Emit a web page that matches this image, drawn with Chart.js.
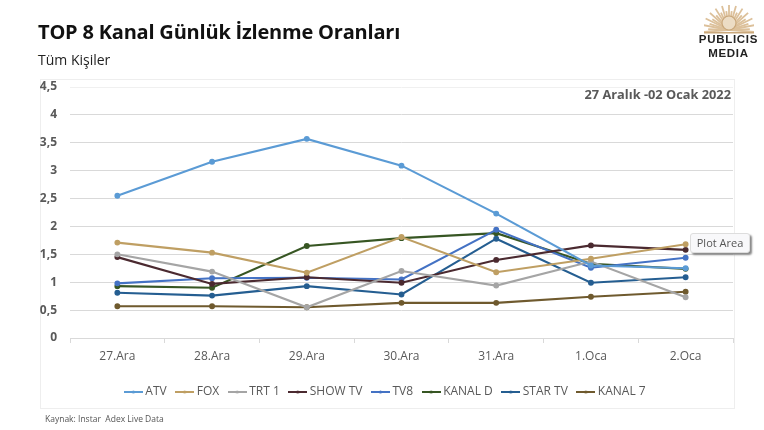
<!DOCTYPE html>
<html lang="tr">

<head>
  <meta charset="UTF-8">
  <title>TOP 8 Kanal</title>
  <style>
    body { margin: 0; background: #fff; font-family: "Open Sans", sans-serif; }
    #page { position: relative; width: 764px; height: 430px; overflow: hidden; }
    #page div { position: absolute; white-space: nowrap; }
    canvas#grafico { position: absolute; left: 0; top: 0; }
    .titulo { left: 38px; top: 18px; font-size: 20px; font-weight: 700; color: #111; letter-spacing: -0.2px; }
    .sub { left: 38px; top: 50px; font-size: 14px; color: #222; }
    .periodo { right: 33px; top: 85px; font-size: 12.8px; font-weight: 700; color: #595959; }
    .kaynak { left: 45px; top: 413px; font-size: 8.5px; color: #555; }
    .moldura { left: 40px; top: 79px; width: 693px; height: 328px; border: 1px solid #eee; }
    .dica { left: 690px; top: 233px; width: 58px; height: 18px; line-height: 17px; text-align: center; font-size: 11px; color: #555;
      background: #f8f8fa; border: 1px solid #ddd; border-radius: 3px; box-shadow: 2px 2px 2px #888; }
    .logo1 { left: 694px; top: 33px; width: 69px; text-align: center; font: 700 11.5px "Liberation Sans", sans-serif; letter-spacing: .7px; color: #222; }
    .logo2 { left: 694px; top: 47px; width: 69px; text-align: center; font: 700 11.5px "Liberation Sans", sans-serif; letter-spacing: .7px; color: #222; }
    svg { position: absolute; left: 704px; top: 3px; }
  </style>
</head>

<body>
  <div id="page">
    <div class="moldura"></div>
    <canvas id="grafico" width="764" height="430"></canvas>
    <div class="titulo">TOP 8 Kanal Günlük İzlenme Oranları</div>
    <div class="sub">Tüm Kişiler</div>
    <div class="periodo">27 Aralık -02 Ocak 2022</div>
    <div class="kaynak">Kaynak: Instar&nbsp; Adex Live Data</div>
    <div class="dica">Plot Area</div>
    <svg id="sol" width="50" height="32"></svg>
    <div class="logo1">PUBLICIS</div>
    <div class="logo2">MEDIA</div>
  </div>

  <script src="https://cdn.jsdelivr.net/npm/chart.js"></script>
  <script>
    const dias = ['27.Ara', '28.Ara', '29.Ara', '30.Ara', '31.Ara', '1.Oca', '2.Oca'];
    const canais = ['ATV', 'FOX', 'TRT 1', 'SHOW TV', 'TV8', 'KANAL D', 'STAR TV', 'KANAL 7'];
    const atv = [2.55, 3.16, 3.57, 3.09, 2.23, 1.30, 1.25];
    const fox = [1.71, 1.53, 1.17, 1.81, 1.18, 1.42, 1.68];
    const trt1 = [1.50, 1.19, 0.55, 1.20, 0.94, 1.37, 0.73];
    const showTv = [1.45, 0.97, 1.09, 0.99, 1.40, 1.66, 1.58];
    const tv8 = [0.98, 1.07, 1.08, 1.05, 1.94, 1.26, 1.44];
    const kanalD = [0.93, 0.90, 1.65, 1.79, 1.88, 1.33, 1.24];
    const starTv = [0.81, 0.76, 0.93, 0.78, 1.78, 0.99, 1.09];
    const kanal7 = [0.57, 0.57, 0.55, 0.63, 0.63, 0.74, 0.83];
    const valores = [atv, fox, trt1, showTv, tv8, kanalD, starTv, kanal7];
    const cores = ['#5b9bd5', '#bf9f63', '#a5a5a5', '#4b2a30', '#4472c4', '#375623', '#255e91', '#6f5a2e'];

    // sol do logo
    let raios = '';
    for (let i = 0; i <= 24; i++) {
      const a = Math.PI * (i / 24);
      const r = i % 2 ? 21 : 27;
      raios += `<line x1="25" y1="27" x2="${25 + Math.cos(a) * r}" y2="${29 - Math.sin(a) * r}" stroke="#dcc09a" stroke-width="1.8"/>`;
    }
    document.getElementById('sol').innerHTML = raios +
      '<circle cx="25" cy="20" r="7" fill="#ecdcc4" stroke="#c9a77a" stroke-width="1.2"/><rect x="0" y="29" width="50" height="1.5" fill="#c9a77a"/>';

    // amostra da legenda: linha com ponto no meio
    function amostra(cor) {
      const c = document.createElement('canvas');
      c.width = 19; c.height = 6;
      const g = c.getContext('2d');
      g.fillStyle = cor;
      g.fillRect(0, 2, 19, 2);
      g.beginPath(); g.arc(9.5, 3, 1.6, 0, Math.PI * 2); g.fill();
      return c;
    }

    new Chart(document.getElementById('grafico'), {
      type: 'line',
      data: {
        labels: dias,
        datasets: canais.map((nome, i) => ({
          label: nome,
          data: valores[i],
          borderColor: cores[i],
          backgroundColor: cores[i],
          borderWidth: 2.1,
          pointRadius: 1.9,
          tension: 0
        }))
      },
      options: {
        responsive: false,
        animation: false,
        layout: { padding: { left: 40, right: 31, top: 87, bottom: 22 } },
        plugins: {
          tooltip: { enabled: false },
          legend: {
            position: 'bottom',
            labels: {
              usePointStyle: true,
              boxHeight: 6,
              padding: 12,
              color: '#595959',
              font: { family: '"Open Sans"', size: 12 },
              generateLabels: chart => chart.data.datasets.map((d, i) => ({
                text: d.label,
                datasetIndex: i,
                fontColor: '#595959',
                pointStyle: amostra(cores[i]),
                lineWidth: 0
              }))
            }
          }
        },
        scales: {
          x: {
            offset: true,
            afterFit: s => { s.height = 36; },
            border: { color: '#d9d9d9' },
            grid: { offset: true, drawOnChartArea: false, color: '#d9d9d9', tickLength: 5 },
            ticks: { color: '#595959', font: { family: '"Open Sans"', size: 12 }, padding: 6, maxRotation: 0 }
          },
          y: {
            min: 0,
            max: 4.5,
            afterFit: s => { s.width = 30; },
            border: { display: false },
            grid: {
              drawTicks: false,
              color: c => c.tick.value === 4.5 ? '#f0f0f0' : '#d9d9d9'
            },
            ticks: {
              stepSize: 0.5,
              padding: 13,
              color: '#595959',
              font: { family: '"Open Sans"', size: 12, weight: '700' },
              callback: v => String(v).replace('.', ',')
            }
          }
        }
      }
    });
  </script>
</body>

</html>
